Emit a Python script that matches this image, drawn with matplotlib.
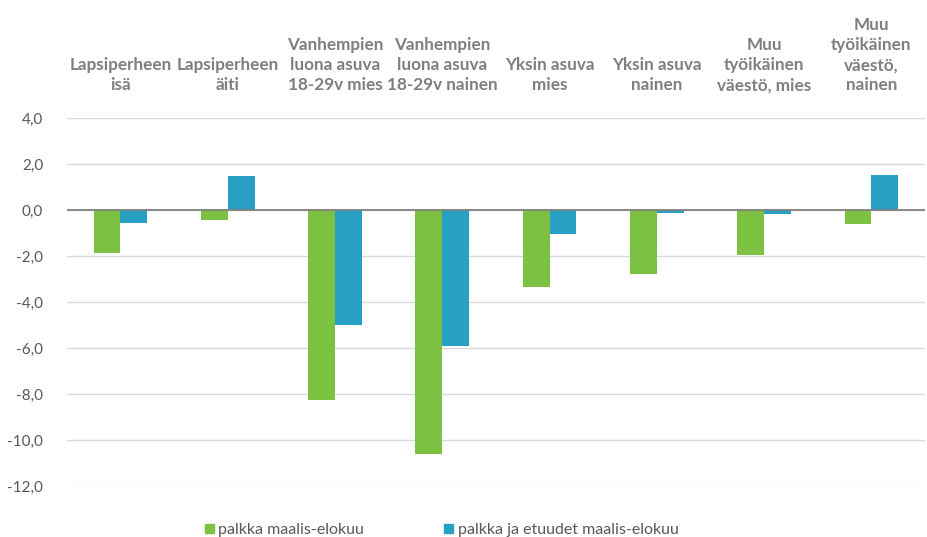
import numpy as np
import matplotlib.pyplot as plt
from matplotlib.patches import Patch

# ryhmät ja muutokset (%-yks.)
ryhmat = ['Lapsiperheen\nisä', 'Lapsiperheen\näiti',
          'Vanhempien\nluona asuva\n18-29v mies', 'Vanhempien\nluona asuva\n18-29v nainen',
          'Yksin asuva\nmies', 'Yksin asuva\nnainen',
          'Muu\ntyöikäinen\nväestö, mies', 'Muu\ntyöikäinen\nväestö,\nnainen']
palkka = [-1.88, -0.43, -8.26, -10.6, -3.33, -2.78, -1.94, -0.6]
palkka_etuudet = [-0.58, 1.49, -5.0, -5.91, -1.06, -0.14, -0.16, 1.51]
y_ticks = [4, 2, 0, -2, -4, -6, -8, -10, -12]

vihrea = '#7DC142'
sininen = '#28A0C4'
harmaa = '#7F7F7F'

plt.rcParams['font.family'] = ['Lato', 'DejaVu Sans']

fig = plt.figure(figsize=(9.27, 5.37), dpi=100)
ax = fig.add_axes([0.072, 0.095, 0.926, 0.685])

x = np.arange(len(ryhmat))
w = 0.25
ax.bar(x - w / 2, palkka, w, color=vihrea, zorder=2)
ax.bar(x + w / 2, palkka_etuudet, w, color=sininen, zorder=2)

ax.set_xlim(-0.5, len(ryhmat) - 0.5)
ax.set_ylim(-12, 4)
ax.set_yticks(y_ticks)
ax.set_yticklabels([f'{v:.1f}'.replace('.', ',') for v in y_ticks], color='#595959', fontsize=11)
ax.yaxis.grid(True, color='#D9D9D9', lw=1, zorder=0)
ax.axhline(0, color='#808080', lw=1.3, zorder=3)
ax.tick_params(axis='y', length=0, pad=17)

ax.xaxis.tick_top()
ax.set_xticks(x)
ax.set_xticklabels(ryhmat, fontweight='bold', color=harmaa, fontsize=12.3, linespacing=1.3)
ax.tick_params(axis='x', length=0, pad=18)

for s in ax.spines.values():
    s.set_visible(False)

kahvat = [Patch(color=vihrea), Patch(color=sininen)]
fig.legend(kahvat, ['palkka maalis-elokuu', 'palkka ja etuudet maalis-elokuu'],
           loc='center left', bbox_to_anchor=(0.221, 0.013), ncol=2, frameon=False,
           handlelength=0.55, handleheight=0.55, handletextpad=0.3, columnspacing=5.0,
           borderaxespad=0, borderpad=0, fontsize=11.5, labelcolor='#595959')

fig.savefig('out.png', dpi=100)
